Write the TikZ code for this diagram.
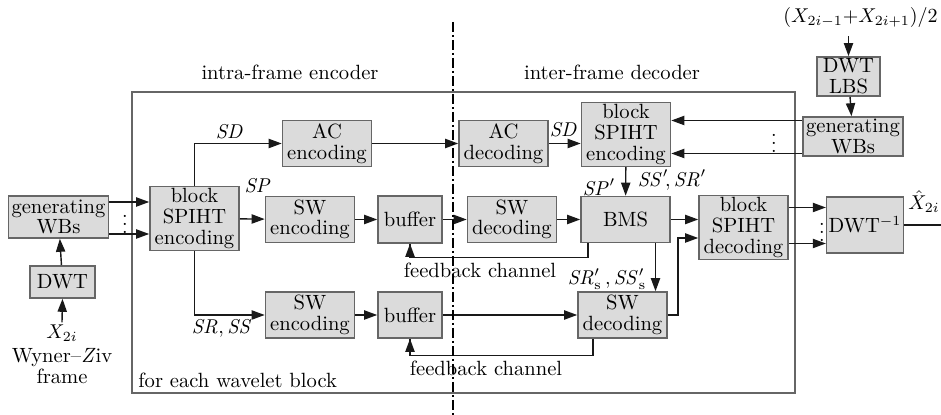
\documentclass[tikz,border=0pt]{standalone}
\usepackage{amsmath}
\usetikzlibrary{arrows.meta,calc}
\tikzset{
  >={Triangle[length=6.5pt,width=4.6pt]},
  blk/.style={draw=black!60,fill=black!14,line width=0.8pt,align=center,
    inner sep=1pt,font=\fontsize{10.3}{10.3}\selectfont},
  blktwo/.style={blk,minimum width=44.5pt,minimum height=23pt},
  blkthree/.style={blk,minimum width=44.5pt,minimum height=30.5pt},
  blkwbs/.style={blk,minimum width=50pt,minimum height=20.5pt},
  flow/.style={->,line width=0.7pt,black!90},
  fline/.style={line width=0.7pt,black!90},
  frame/.style={draw=black!60,line width=0.7pt},
  split/.style={line width=1.3pt,dash pattern=on 5pt off 1.5pt on 1pt off 1.5pt},
  lbl/.style={font=\fontsize{10.3}{10.3}\selectfont,inner sep=1pt,align=center},
  dots/.style={font=\fontsize{10}{10}\selectfont,inner sep=0pt},
}
\begin{document}
\begin{tikzpicture}[x=0.5pt,y=-0.5pt]
  \useasboundingbox (0,0) rectangle (941,415);
  % frame of the coder and the encoder/decoder split
  \draw[frame] (132,92) rectangle (795,393);
  \node[lbl] (enctitle) at (290,72) {intra-frame encoder};
  \node[lbl] (dectitle) at (612,72) {inter-frame decoder};
  \node[lbl,anchor=west] (each) at (136,380) {for each wavelet block};

  % left input
  \node[lbl] (xin) at (62,333) {$X_{2i}$};
  \node[lbl] (wz) at (62,366) {Wyner--\textit{Z}iv\\frame};
  \node[blk,minimum width=32.5pt,minimum height=16pt] (dwtL) at (62.5,282) {DWT};
  \node[blkwbs,minimum height=21pt] (genL) at (58.5,217) {generating\\WBs};

  % encoder
  \node[blkthree] (bse) at (194.5,218.5) {block\\SPIHT\\encoding};
  \node[blktwo] (acenc) at (327,143.5) {AC\\encoding};
  \node[blktwo] (swenc1) at (310,219.5) {SW\\encoding};
  \node[blktwo] (swenc2) at (310,315) {SW\\encoding};
  \node[blk,minimum width=32pt,minimum height=23.5pt] (buf1) at (410,219.5) {buffer};
  \node[blk,minimum width=32pt,minimum height=23pt] (buf2) at (410,315) {buffer};

  % decoder
  \node[blktwo] (acdec) at (503.5,143.5) {AC\\decoding};
  \node[blktwo] (swdec1) at (512,219.5) {SW\\decoding};
  \node[blkthree] (bsed) at (626,134.5) {block\\SPIHT\\encoding};
  \node[blktwo] (bms) at (625.5,219.5) {BMS};
  \node[blktwo] (swdec2) at (622.5,315) {SW\\decoding};
  \node[blkthree] (bsdec) at (743.5,227.5) {block\\SPIHT\\decoding};
  \node[blk,minimum width=32pt,minimum height=28pt] (dwtinv) at (865,225) {DWT$^{-1}$};

  % side information
  \node[lbl,anchor=east] (sidein) at (940,18) {$(X_{2i-1}{+}X_{2i+1})/2$};
  \node[blk,minimum width=31.5pt,minimum height=19.5pt] (dwtlbs) at (848.5,76.5) {DWT\\LBS};
  \node[blkwbs,minimum height=19.5pt] (genR) at (853,136.5) {generating\\WBs};
  \node[lbl,anchor=west] (xhat) at (906,202) {$\hat{X}_{2i}$};

  % labels on the connectors
  \node[lbl] (sdL) at (230,132) {$\mathit{SD}$};
  \node[lbl] (spL) at (258,186) {$\mathit{SP}$};
  \node[lbl] (srss) at (222,329) {$\mathit{SR},\mathit{SS}$};
  \node[lbl] (sdR) at (564,130) {$\mathit{SD}$};
  \node[lbl] (spR) at (599,187) {$\mathit{SP}'$};
  \node[lbl] (sssr) at (672,180) {$\mathit{SS}'\!,\mathit{SR}'$};
  \node[lbl] (srs) at (607,279) {$\mathit{SR}'_{\mathrm{s}}\,,\mathit{SS}'_{\mathrm{s}}$};
  \node[lbl] (fb1) at (480,270) {feedback channel};
  \node[lbl] (fb2) at (486,368) {feedback channel};

  \node[dots] (dL) at (125,218) {$\vdots$};
  \node[dots] (dR) at (774,137) {$\vdots$};
  \node[dots] (dO) at (822,226) {$\vdots$};

  % connectors
  \draw[flow] (xin.north) -- (dwtL.south);
  \draw[flow] (dwtL) -- (genL);
  \draw[flow] ([yshift=7.5pt]genL.east) -- ([yshift=7.5pt]genL.east -| bse.west);
  \draw[flow] ([yshift=-8.5pt]genL.east) -- ([yshift=-8.5pt]genL.east -| bse.west);
  \draw[flow] (bse.north) |- (acenc.west);
  \draw[flow] (bse) -- (swenc1);
  \draw[flow] (bse.south) |- (swenc2.west);
  \draw[flow] (acenc) -- (acdec);
  \draw[flow] (swenc1) -- (buf1);
  \draw[flow] (buf1) -- (swdec1);
  \draw[flow] (swenc2) -- (buf2);
  \draw[flow] (buf2) -- (swdec2);
  \draw[flow] (acdec.east) -- (acdec.east -| bsed.west);
  \draw[flow] (sidein.south -| dwtlbs.north) ++(0,6) -- (dwtlbs.north);
  \draw[flow] (dwtlbs) -- (genR);
  \draw[flow] ([yshift=8pt]genR.west) -- ([yshift=8pt]genR.west -| bsed.east);
  \draw[flow] ([yshift=-8.5pt]genR.west) -- ([yshift=-8.5pt]genR.west -| bsed.east);
  \draw[flow] (bsed) -- (bms);
  \draw[flow] (swdec1) -- (bms);
  \draw[flow] (bms.east) -- (bms.east -| bsdec.west);
  \draw[flow] ([xshift=15pt]bms.south) -- ([xshift=15pt]bms.south |- swdec2.north);
  \draw[flow] (swdec2.east) -- ++(10,0) |- ([yshift=-5.25pt]bsdec.west);
  \draw[fline] ([xshift=-18.75pt]bms.south) -- ++(0,14) -| (buf1.south);
  \draw[flow] (buf1.south) ++(0,14) -- (buf1.south);
  \draw[fline] ([xshift=-14.75pt]swdec2.south) -- ++(0,17) -| (buf2.south);
  \draw[flow] (buf2.south) ++(0,17) -- (buf2.south);
  \draw[flow] ([yshift=10pt]bsdec.east) -- ([yshift=10pt]bsdec.east -| dwtinv.west);
  \draw[flow] ([yshift=-8pt]bsdec.east) -- ([yshift=-8pt]bsdec.east -| dwtinv.west);
  \draw[flow] (dwtinv.east) -- ++(50,0);

  \draw[split] (453,22) -- (453,415);
\end{tikzpicture}
\end{document}
